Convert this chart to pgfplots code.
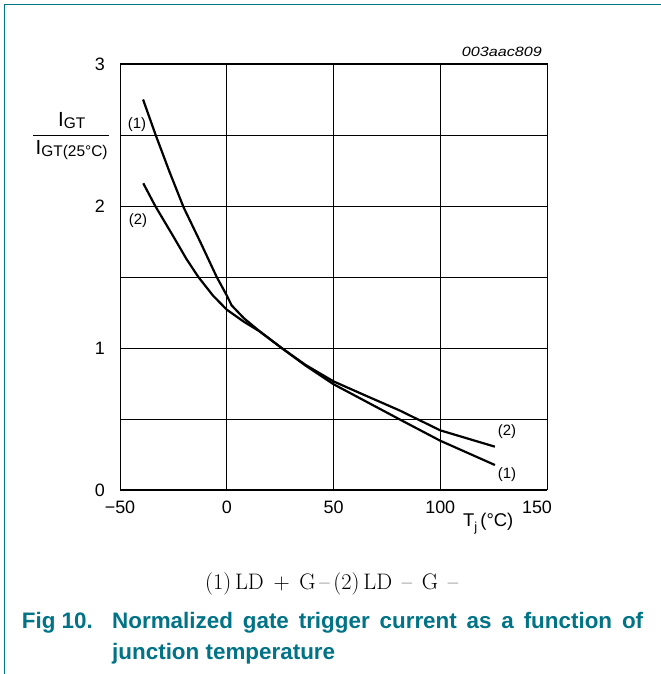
\documentclass[border=0pt]{standalone}
\usepackage{fontspec}
\newfontfamily\arial{Liberation Sans}
\usepackage{pgfplots}
\pgfplotsset{compat=1.18}
\definecolor{nxpteal}{RGB}{0,115,135}

\newcommand{\fs}[1]{\fontsize{#1}{#1}\selectfont}

\begin{document}
\begin{tikzpicture}[x=1bp,y=1bp]
\useasboundingbox (0,0) rectangle (661,674);
% page frame, left and top
\draw[nxpteal, line width=1.5bp] (4.5,0) -- (4.5,669.5) -- (661,669.5);

\begin{axis}[
    at={(120bp,184bp)}, anchor=south west,
    scale only axis,
    width=427bp, height=426bp,
    xmin=-50, xmax=150,
    ymin=0, ymax=3,
    xtick={-50,0,50,100,150},
    xticklabels={−50,0,50,100,150\hspace*{20bp}},
    ytick={0,1,2,3},
    yticklabels={0,1,2,3},
    minor ytick={0.5,1.5,2.5},
    grid=both,
    major grid style={black, line width=0.8bp},
    minor grid style={black, line width=0.8bp},
    axis line style={black, line width=1bp},
    major tick length=0pt, minor tick length=0pt,
    xticklabel style={font=\arial\fs{18}, anchor=north, inner sep=0pt, yshift=-11bp},
    yticklabel style={font=\arial\fs{18}, anchor=east, inner sep=0pt, xshift=-15bp},
    clip=false,
  ]
  % (1) LD+ G-
  \addplot[black, line width=2.2bp] coordinates {
    (-39.2,2.75) (-33.3,2.50) (-26.8,2.24) (-20.2,1.99) (-12.5,1.75)
    (-4.7,1.50) (0,1.37) (2.3,1.30) (8,1.21) (15.6,1.115) (25.7,1.0)
    (37,0.875) (50,0.745) (65,0.625) (81,0.497) (100,0.347) (125.6,0.176)
  };
  % (2) LD- G-
  \addplot[black, line width=2.2bp] coordinates {
    (-39.1,2.16) (-33.5,2.00) (-25,1.785) (-18.8,1.625) (-13.3,1.50)
    (-6.5,1.37) (0,1.27) (8,1.185) (15.6,1.115) (25.7,1.0)
    (37,0.88) (50,0.765) (65,0.665) (81,0.56) (100,0.42) (125.6,0.305)
  };
  \node[font=\arial\fs{15}] at (axis cs:-42,2.57) {(1)};
  \node[font=\arial\fs{15}] at (axis cs:-41.6,1.90) {(2)};
  \node[font=\arial\fs{15}] at (axis cs:131.3,0.408) {(2)};
  \node[font=\arial\fs{15}] at (axis cs:131.3,0.106) {(1)};
\end{axis}

% figure code
\node[anchor=base east, inner sep=0pt, font=\arial\itshape\fs{13.5}] at (542,617)
  {\scalebox{1.2}[1]{003aac809}};

% y label as a fraction
\node[anchor=base west, inner sep=0pt, font=\arial] at (58,547.3)
  {\fs{20.5}I\raisebox{-1.7bp}{\fs{15.5}GT}};
\draw[black, line width=0.9bp] (33.3,539) -- (109,539);
\node[anchor=base west, inner sep=0pt, font=\arial] at (35.5,519)
  {\fs{20.5}I\raisebox{-1.7bp}{\fs{15.5}GT(25°C)}};

% x label
\node[anchor=base west, inner sep=0pt, font=\arial] at (463,147)
  {\fs{18.5}T\raisebox{-4.5bp}{\fs{13}j}\,(°C)};

% legend line
\node[anchor=base west, inner sep=0pt, font=\fs{22.5}] at (205,84)
  {\makebox[253bp][s]{(1)\,LD + G\,–\,(2)\,LD – G –}};

% caption
\node[anchor=base west, inner sep=0pt, font=\arial\bfseries\fs{22.5}, text=nxpteal] at (21.7,45) {Fig 10.};
\node[anchor=base west, inner sep=0pt, font=\arial\bfseries\fs{22.5}, text=nxpteal] at (112,45)
  {\makebox[531bp][s]{Normalized gate trigger current as a function of}};
\node[anchor=base west, inner sep=0pt, font=\arial\bfseries\fs{22.5}, text=nxpteal] at (112,14)
  {junction temperature};
\end{tikzpicture}
\end{document}
